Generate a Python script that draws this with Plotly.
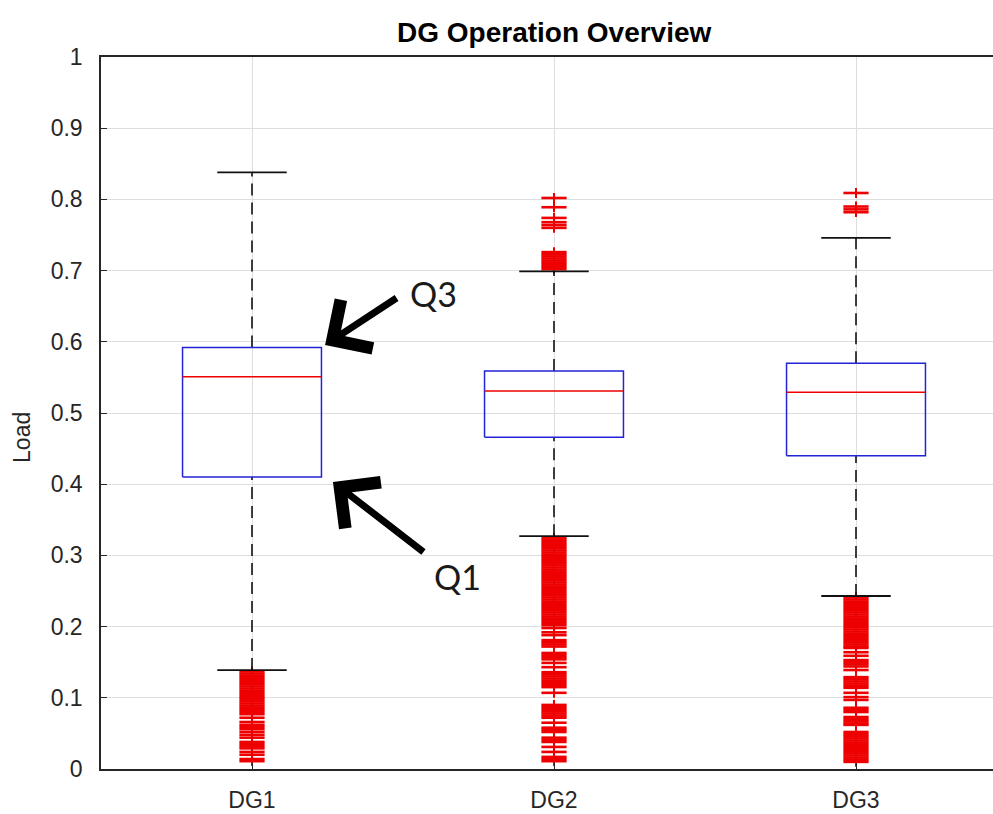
import plotly.graph_objects as go

# ---------------- data ----------------
categories = ["DG1", "DG2", "DG3"]
q1 = [0.410, 0.466, 0.440]
median = [0.551, 0.531, 0.529]
q3 = [0.592, 0.559, 0.570]
lower_whisker = [0.139, 0.327, 0.243]
upper_whisker = [0.838, 0.699, 0.746]

outliers_dg1 = [
    0.137, 0.134, 0.131, 0.128, 0.125, 0.122, 0.119, 0.116, 0.113, 0.110,
    0.107, 0.104, 0.101, 0.098, 0.095, 0.092, 0.089, 0.086, 0.083, 0.080,
    0.077, 0.072, 0.066, 0.062, 0.059, 0.056, 0.052, 0.048, 0.044, 0.038,
    0.035, 0.032, 0.029, 0.024, 0.020, 0.014, 0.011,
]
outliers_dg2 = [
    0.802, 0.789, 0.774, 0.768, 0.764, 0.760,
    0.726, 0.723, 0.720, 0.717, 0.714, 0.711, 0.708, 0.705, 0.702,
    0.325, 0.322, 0.319, 0.316, 0.313, 0.310, 0.307, 0.304, 0.301, 0.298,
    0.295, 0.292, 0.289, 0.286, 0.283, 0.280, 0.277, 0.274, 0.271, 0.268,
    0.265, 0.262, 0.259, 0.256, 0.253, 0.250, 0.247, 0.244, 0.241, 0.238,
    0.235, 0.232, 0.229, 0.226, 0.223, 0.220, 0.217, 0.214, 0.211, 0.208,
    0.205, 0.202, 0.198, 0.192, 0.188, 0.181, 0.178, 0.175, 0.172, 0.163,
    0.160, 0.157, 0.154, 0.149, 0.143, 0.136, 0.133, 0.130, 0.127, 0.124,
    0.121, 0.118, 0.115, 0.107, 0.090, 0.087, 0.084, 0.081, 0.078, 0.075,
    0.072, 0.065, 0.058, 0.055, 0.052, 0.044, 0.041, 0.038, 0.031, 0.024,
    0.017, 0.014, 0.011,
]
outliers_dg3 = [
    0.809, 0.790, 0.786, 0.782,
    0.241, 0.238, 0.235, 0.232, 0.229, 0.226, 0.223, 0.220, 0.217, 0.214,
    0.211, 0.208, 0.205, 0.202, 0.199, 0.196, 0.193, 0.190, 0.187, 0.184,
    0.181, 0.178, 0.175, 0.172, 0.170, 0.164, 0.159, 0.153, 0.150, 0.147,
    0.144, 0.139, 0.129, 0.126, 0.123, 0.120, 0.117, 0.114, 0.107, 0.101,
    0.097, 0.086, 0.083, 0.080, 0.073, 0.070, 0.067, 0.064, 0.062, 0.052,
    0.049, 0.046, 0.043, 0.040, 0.037, 0.034, 0.031, 0.028, 0.025, 0.022,
    0.019, 0.016, 0.013, 0.010,
]
outliers = [outliers_dg1, outliers_dg2, outliers_dg3]

yticks = [0, 0.1, 0.2, 0.3, 0.4, 0.5, 0.6, 0.7, 0.8, 0.9, 1]

# ---------------- styles ----------------
FONT = "Liberation Sans, Arial, sans-serif"
BOX_HALF = 0.23
CAP_HALF = 0.115
BLUE = "#2323d8"
RED = "#ee0000"
DARK = "#262626"
TICK_SIZE = 23

fig = go.Figure()

positions = [i + 1 for i in range(len(categories))]

# outliers (drawn first so whisker caps sit over them)
for pos, vals in zip(positions, outliers):
    xs = [pos] * len(vals)
    fig.add_trace(go.Scatter(
        x=xs, y=vals, mode="markers", showlegend=False, hoverinfo="y",
        marker=dict(symbol="line-ew", size=18, line=dict(color=RED, width=2.6)),
    ))
    fig.add_trace(go.Scatter(
        x=xs, y=vals, mode="markers", showlegend=False, hoverinfo="skip",
        marker=dict(symbol="line-ns", size=7, line=dict(color=RED, width=2)),
    ))

for pos, a, m, b, lo, hi in zip(positions, q1, median, q3, lower_whisker, upper_whisker):
    # whiskers (dashed)
    fig.add_trace(go.Scatter(
        x=[pos, pos, None, pos, pos], y=[b, hi, None, lo, a], mode="lines",
        showlegend=False, hoverinfo="skip",
        line=dict(color="#111111", width=1.6, dash="12px,7px"),
    ))
    # caps
    fig.add_trace(go.Scatter(
        x=[pos - CAP_HALF, pos + CAP_HALF, None, pos - CAP_HALF, pos + CAP_HALF],
        y=[hi, hi, None, lo, lo], mode="lines",
        showlegend=False, hoverinfo="skip",
        line=dict(color="#111111", width=1.8),
    ))
    # box
    fig.add_trace(go.Scatter(
        x=[pos - BOX_HALF, pos + BOX_HALF, pos + BOX_HALF, pos - BOX_HALF, pos - BOX_HALF],
        y=[a, a, b, b, a], mode="lines", showlegend=False, hoverinfo="skip",
        line=dict(color=BLUE, width=1.5),
    ))
    # median
    fig.add_trace(go.Scatter(
        x=[pos - BOX_HALF, pos + BOX_HALF], y=[m, m], mode="lines",
        showlegend=False, hoverinfo="skip",
        line=dict(color=RED, width=1.5),
    ))

L, T, B = 101, 57, 45
W, H = 993, 814
unit = 302.0
x_lo = 0.5
x_hi = x_lo + (W - L) / unit

fig.update_layout(
    width=W, height=H,
    margin=dict(l=L, r=0, t=T, b=B, pad=0),
    paper_bgcolor="white", plot_bgcolor="white",
    font=dict(family=FONT, size=TICK_SIZE, color=DARK),
    showlegend=False,
    xaxis=dict(
        range=[x_lo, x_hi], tickvals=positions, ticktext=categories,
        showgrid=True, gridcolor="#dedede", gridwidth=1,
        showline=True, linecolor=DARK, linewidth=1.5, mirror=True,
        ticks="inside", ticklen=6, tickcolor=DARK,
        zeroline=False, ticklabelstandoff=10,
        tickfont=dict(family=FONT, size=TICK_SIZE, color=DARK),
    ),
    yaxis=dict(
        range=[0, 1], tickvals=yticks,
        showgrid=True, gridcolor="#dedede", gridwidth=1,
        showline=True, linecolor=DARK, linewidth=1.5, mirror=False,
        ticks="inside", ticklen=6, tickcolor=DARK,
        zeroline=False, ticklabelstandoff=12,
        tickfont=dict(family=FONT, size=TICK_SIZE, color=DARK),
    ),
)

annotations = [
    # title
    dict(text="<b>DG Operation Overview</b>", x=2.0, xref="x", y=(769 - 33) / 712, yref="paper",
         showarrow=False, xanchor="center", yanchor="middle",
         font=dict(family=FONT, size=28, color="#000000")),
    # y label
    dict(text="Load", x=(22 - L) / (W - L), xref="paper", y=0.465, yref="paper",
         textangle=-90, showarrow=False, xanchor="center", yanchor="middle",
         font=dict(family=FONT, size=23, color=DARK)),
    # Q3 label & arrow
    dict(text="Q3", x=1.60, xref="x", y=0.668, yref="y", showarrow=False,
         xanchor="center", yanchor="middle",
         font=dict(family="Lato, Open Sans, sans-serif", size=34, color="#1a1a1a")),
    dict(text="", x=1.242, xref="x", y=0.5955, yref="y", showarrow=True,
         ax=73, ay=-48, arrowhead=4, arrowwidth=7, arrowsize=1.6,
         arrowcolor="#000000", standoff=0, startstandoff=0),
    # Q1 label & arrow
    dict(text="Q1", x=1.68, xref="x", y=0.270, yref="y", showarrow=False,
         xanchor="center", yanchor="middle",
         font=dict(family="Lato, Open Sans, sans-serif", size=34, color="#1a1a1a")),
    dict(text="", x=1.268, xref="x", y=0.403, yref="y", showarrow=True,
         ax=92, ay=71, arrowhead=4, arrowwidth=7, arrowsize=1.6,
         arrowcolor="#000000", standoff=0, startstandoff=0),
]
fig.update_layout(annotations=annotations)

fig.write_html("out.html")
